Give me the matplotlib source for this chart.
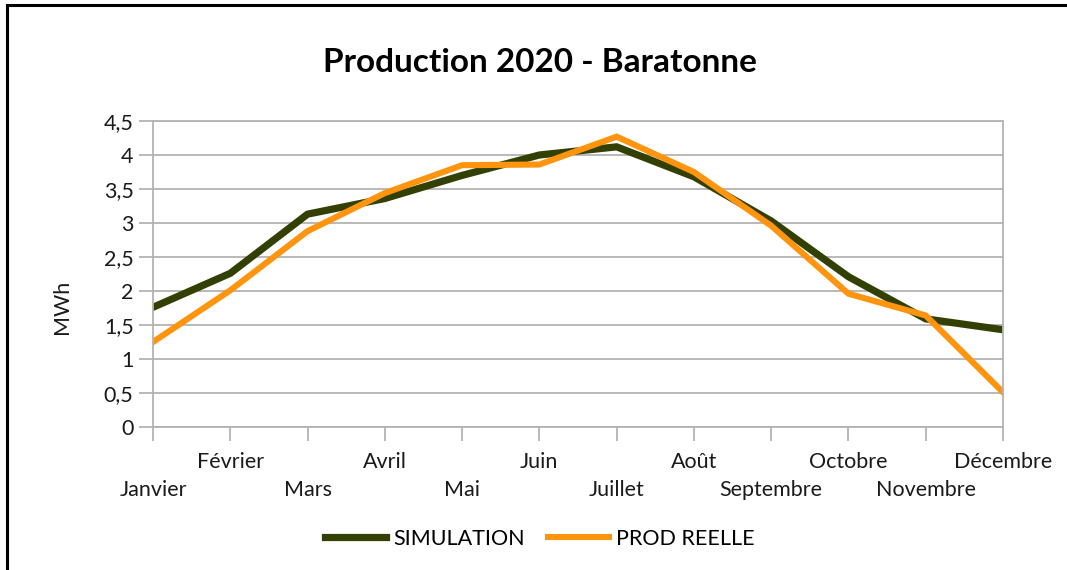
import matplotlib.pyplot as plt
import matplotlib.ticker as mticker
from matplotlib.lines import Line2D

mois = ['Janvier', 'Février', 'Mars', 'Avril', 'Mai', 'Juin', 'Juillet',
        'Août', 'Septembre', 'Octobre', 'Novembre', 'Décembre']
simulation = [1.76, 2.26, 3.13, 3.36, 3.70, 4.00, 4.12, 3.68, 3.03, 2.21, 1.59, 1.43]
prod_reelle = [1.25, 2.01, 2.88, 3.44, 3.85, 3.86, 4.27, 3.75, 2.96, 1.96, 1.64, 0.51]

plt.rcParams['font.family'] = ['Lato', 'DejaVu Sans']

fig = plt.figure(figsize=(10.67, 5.70), dpi=100)
W, H = 1067, 570
ax = fig.add_axes([153 / W, 1 - 427 / H, (1003 - 153) / W, (427 - 121) / H])

x = list(range(len(mois)))
ax.plot(x, simulation, color='#334003', lw=5.2, label='SIMULATION', solid_joinstyle='miter')
ax.plot(x, prod_reelle, color='#ff950e', lw=4.4, label='PROD REELLE', solid_joinstyle='miter')

ax.set_xlim(0, 11)
ax.set_ylim(0, 4.5)
ax.yaxis.set_major_locator(mticker.MultipleLocator(0.5))
ax.yaxis.set_major_formatter(mticker.FuncFormatter(lambda v, p: ('%g' % v).replace('.', ',')))
ax.grid(axis='y', color='#b3b3b3', lw=1.3)
ax.set_axisbelow(True)
for s in ax.spines.values():
    s.set_color('#b3b3b3')
    s.set_linewidth(1.3)

# labels alternés sur deux lignes : mois pairs en bas (major), impairs en haut (minor)
ax.set_xticks(x[0::2])
ax.set_xticklabels(mois[0::2], fontsize=15.5, color='#1a1a1a')
ax.set_xticks(x[1::2], minor=True)
ax.set_xticklabels(mois[1::2], minor=True, fontsize=15.5, color='#1a1a1a')
ax.tick_params(axis='x', which='major', length=10, color='#b3b3b3', width=1.3, pad=28)
ax.tick_params(axis='x', which='minor', length=10, color='#b3b3b3', width=1.3, pad=8)
ax.tick_params(axis='y', length=10, color='#b3b3b3', width=1.3, pad=4, labelsize=15.5, labelcolor='#1a1a1a')

fig.text(62 / W, 1 - 307 / H, 'MWh', rotation=90, fontsize=15.5, color='#1a1a1a',
         ha='center', va='center')
fig.text(540 / W, 1 - 63 / H, 'Production 2020 - Baratonne', fontsize=24,
         fontweight='bold', ha='center', va='center')

fig.legend(loc='center', bbox_to_anchor=(540 / W, 1 - 539 / H), ncol=2, frameon=False,
           fontsize=15.5, handlelength=2.8, columnspacing=1.1, handletextpad=0.35)

# cadre
fig.add_artist(Line2D([7 / W, 7 / W], [0, 1 - 5 / H], color='black', lw=2.2))
fig.add_artist(Line2D([7 / W, 1], [1 - 5 / H, 1 - 5 / H], color='black', lw=2.2))

fig.savefig('out.png', dpi=100, facecolor='white')
